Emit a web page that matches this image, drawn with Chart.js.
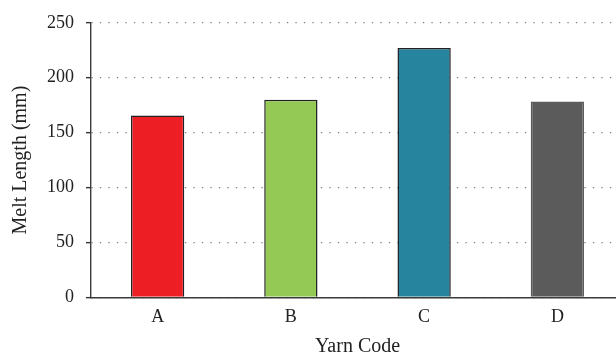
<!DOCTYPE html>
<html>
<head>
<meta charset="utf-8">
<script src="https://cdn.jsdelivr.net/npm/chart.js@4"></script>
<style>
  html, body { margin: 0; padding: 0; background: #fff; overflow: hidden; }
  #wrap { width: 624px; height: 357px; }
</style>
</head>
<body>
<div id="wrap"><canvas id="myChart"></canvas></div>
<script>
var categories = ['A', 'B', 'C', 'D'];
var meltLength = [165.7, 179.9, 227, 178.3];
var barColors = ['#ee1f24', '#94c955', '#26849e', '#5a5b5a'];
var yTicks = [0, 50, 100, 150, 200, 250];

var serif = '"Liberation Serif", "Times New Roman", serif';

new Chart(document.getElementById('myChart'), {
  type: 'bar',
  data: {
    labels: categories,
    datasets: [{
      data: meltLength,
      backgroundColor: barColors,
      borderColor: ['#222', '#222', '#222', '#5a5b5a'],
      borderWidth: 1.5,
      barPercentage: 0.4,
      categoryPercentage: 1
    }]
  },
  options: {
    responsive: true,
    maintainAspectRatio: false,
    animation: false,
    layout: { padding: { top: 22, right: 0, left: 5, bottom: 0 } },
    plugins: { legend: { display: false }, tooltip: { enabled: false } },
    scales: {
      x: {
        grid: { display: true, drawOnChartArea: false, drawTicks: false },
        border: { display: true, color: '#3a3a3a', width: 1.4 },
        ticks: { color: '#222', font: { family: serif, size: 18 }, padding: 9 },
        title: { display: true, text: 'Yarn Code', color: '#222', font: { family: serif, size: 20, lineHeight: 1 }, padding: { top: 0, bottom: 0 } }
      },
      y: {
        min: 0,
        max: 250,
        afterBuildTicks: function (axis) {
          axis.ticks = yTicks.map(function (v) { return { value: v }; });
        },
        grid: {
          color: '#808080',
          lineWidth: 1.3,
          tickLength: 5,
          tickColor: '#333',
          tickBorderDash: [],
          tickWidth: 1.4
        },
        border: { display: true, color: '#3a3a3a', width: 1.4, dash: [1.3, 7.2] },
        ticks: { color: '#222', font: { family: serif, size: 18 }, padding: 12 },
        title: { display: true, text: 'Melt Length (mm)', color: '#222', font: { family: serif, size: 20, lineHeight: 1 }, padding: { top: 6, bottom: 4 } }
      }
    }
  }
});
</script>
</body>
</html>
